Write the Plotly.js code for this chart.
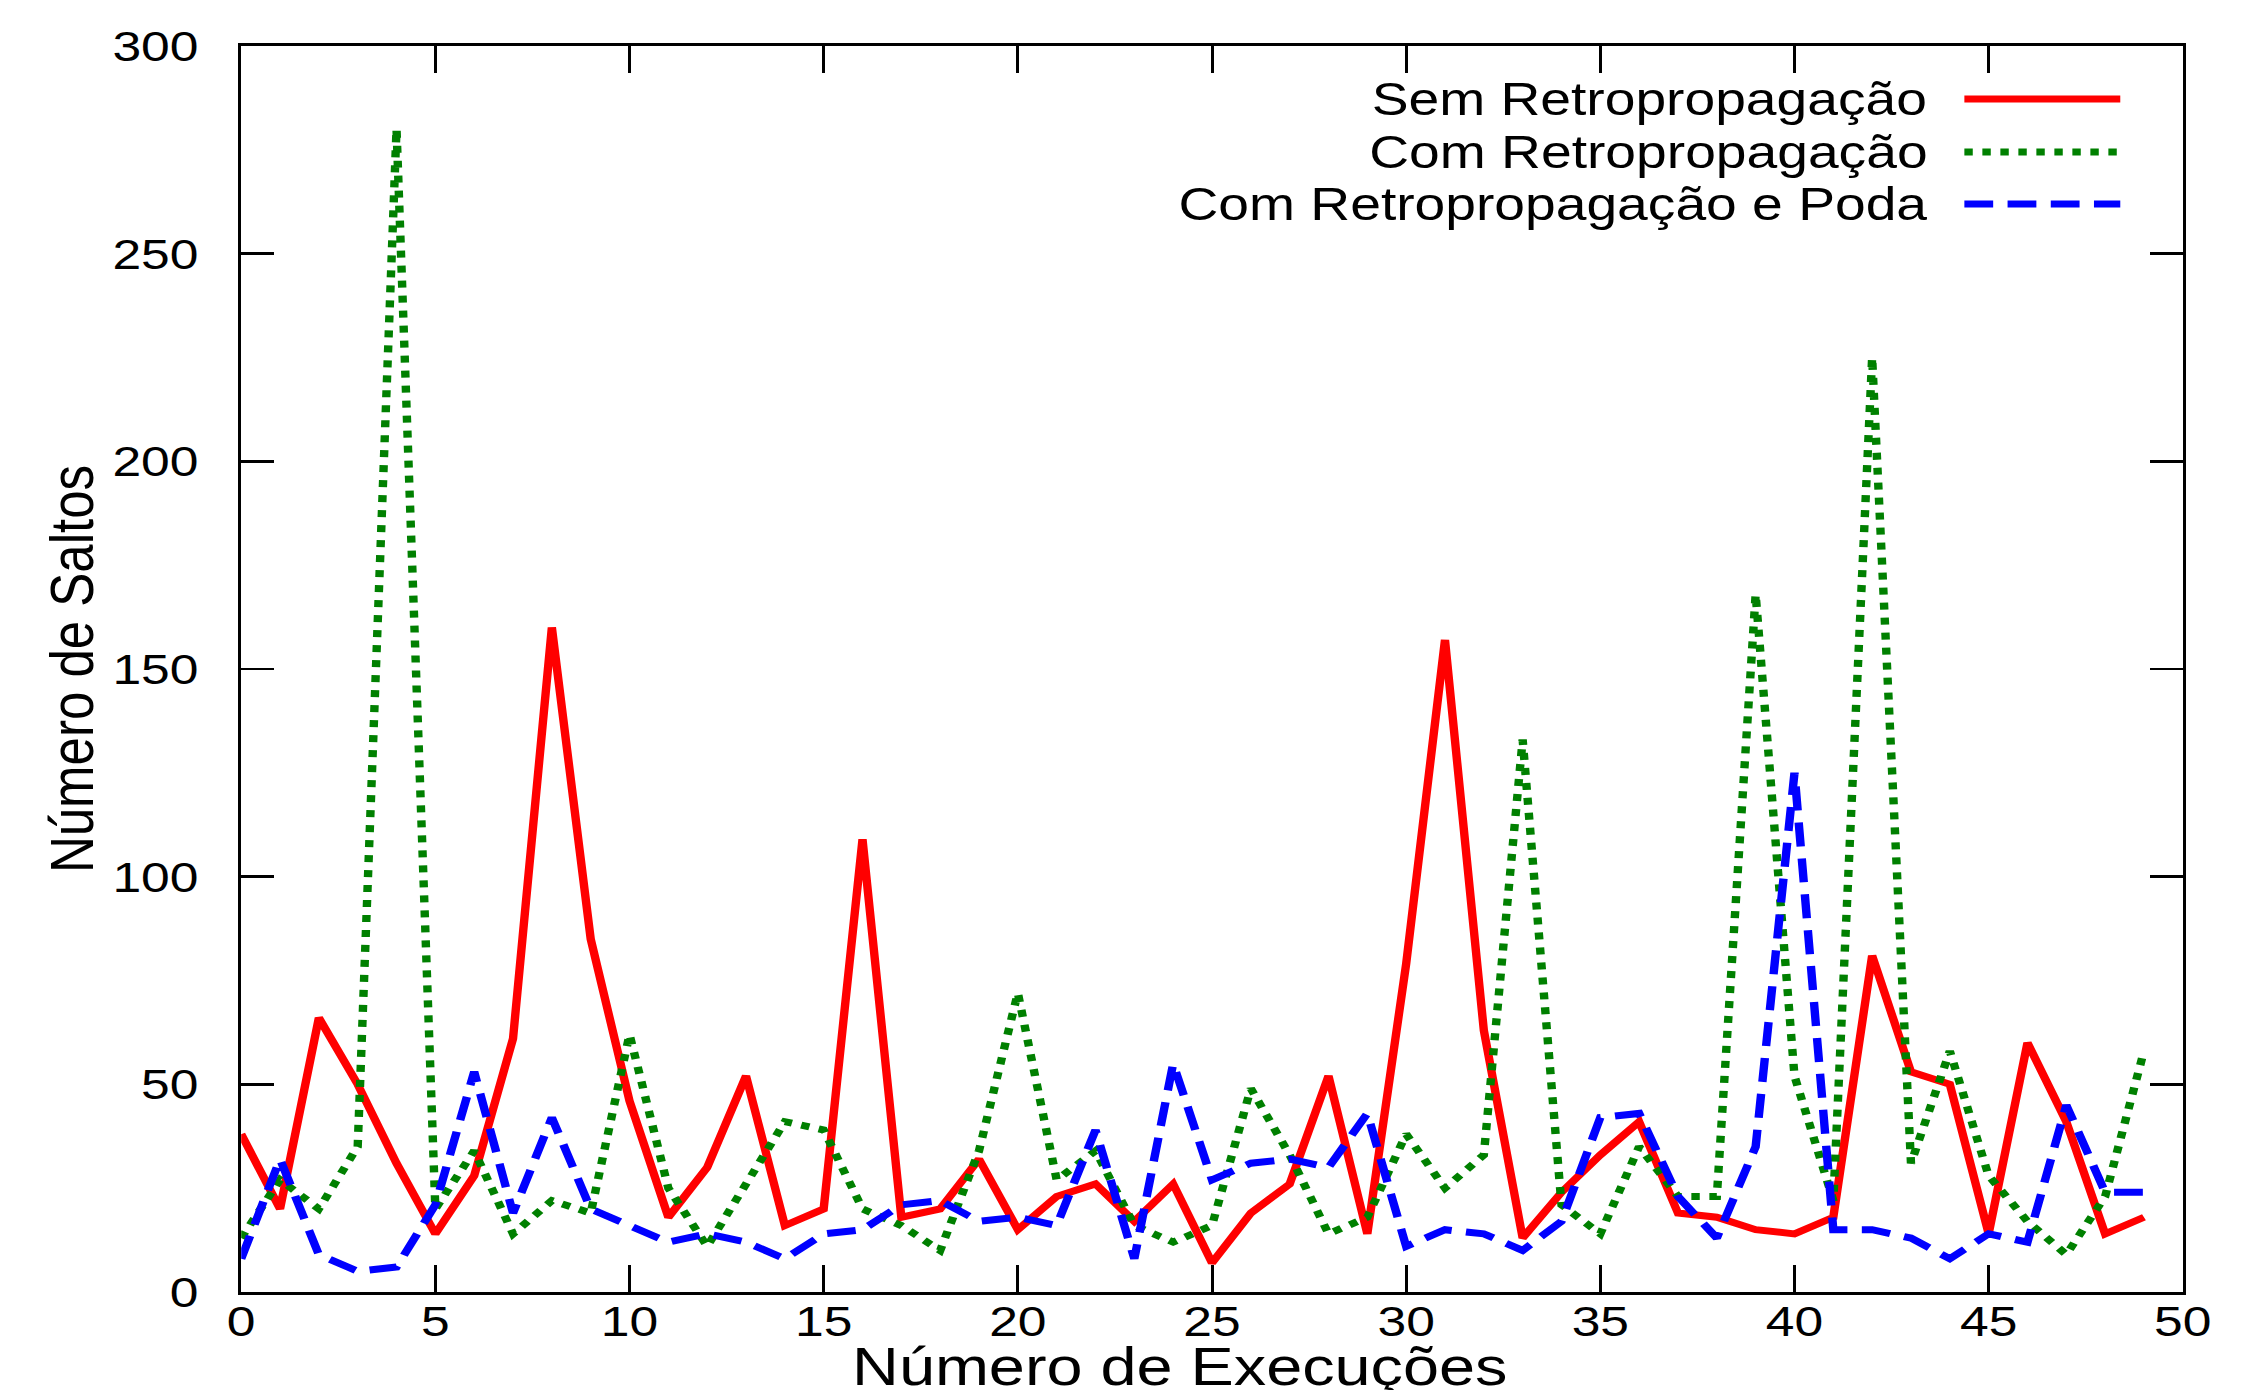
<!DOCTYPE html>
<html>
<head>
<meta charset="utf-8">
<script src="https://cdn.plot.ly/plotly-3.0.1.min.js"></script>
<style>
  html, body { margin: 0; padding: 0; background: #ffffff; overflow: hidden; }
  #wrap { width: 2257px; height: 1390px; overflow: hidden; }
  #chart { width: 1881px; height: 1390px; transform: scale(1.2, 1); transform-origin: 0 0; }
</style>
</head>
<body>
<div id="wrap"><div id="chart"></div></div>
<script>
// Execution index
const execucoes = Array.from({length: 50}, (_, i) => i);

// Series names
const seriesNames = [
  "Sem Retropropagação",
  "Com Retropropagação",
  "Com Retropropagação e Poda"
];

// Axis titles
const xTitle = "Número de Execuções";
const yTitle = "Número de Saltos";

// Series values
const semRetro = [38, 20, 66, 50, 31, 14, 28, 61, 160, 85,
                  46, 18, 30, 52, 16, 20, 109, 18, 20, 32,
                  15, 23, 26, 17, 26, 7, 19, 26, 52, 14,
                  79, 157, 63, 13, 24, 33, 41, 19, 18, 15,
                  14, 18, 81, 53, 50, 14, 60, 41, 14, 18];

const comRetro = [13, 27, 20, 35, 280, 20, 34, 14, 22, 19,
                  62, 25, 11, 26, 41, 39, 20, 16, 10, 34,
                  72, 27, 34, 16, 12, 16, 49, 33, 14, 18,
                  38, 25, 33, 133, 21, 14, 35, 23, 23, 168,
                  52, 22, 225, 31, 58, 28, 17, 9, 23, 58];

const comRetroPoda = [8, 32, 9, 5, 6, 21, 53, 19, 42, 20,
                      16, 12, 14, 12, 8, 14, 15, 21, 22, 17,
                      18, 16, 39, 8, 55, 27, 31, 32, 30, 43,
                      11, 15, 14, 10, 17, 42, 43, 23, 13, 35,
                      125, 15, 15, 13, 8, 14, 12, 45, 24, 24];

// Axis tick values
const xTicks = [0, 5, 10, 15, 20, 25, 30, 35, 40, 45, 50];
const yTicks = [0, 50, 100, 150, 200, 250, 300];

const allSeries = [semRetro, comRetro, comRetroPoda];
const colors = ["#ff0000", "#008000", "#0000ff"];
const dashes = ["solid", "7px,8px", "24px,12px"];
const widths = [7, 7, 7];

const FONT = "Liberation Sans, Arial, Helvetica, sans-serif";

const traces = allSeries.map((vals, k) => ({
  x: execucoes,
  y: vals,
  type: "scatter",
  mode: "lines",
  name: seriesNames[k],
  line: { color: colors[k], width: widths[k], dash: dashes[k] },
  showlegend: false,
  hoverinfo: "skip"
}));

// Manual legend (text right-aligned, sample line on the right, as in the reference)
const legendY = [0.9575, 0.9149, 0.8732];
const annotations = seriesNames.map((n, k) => ({
  xref: "paper", yref: "paper",
  x: 0.8693, y: legendY[k],
  xanchor: "right", yanchor: "middle",
  text: n, showarrow: false,
  font: { family: FONT, size: 46, color: "#000000" }
}));
// x-axis title placed as in the reference (slightly left of centre, low on the page)
annotations.push({
  xref: "paper", yref: "paper",
  x: 0.4832, y: -0.0595,
  xanchor: "center", yanchor: "middle",
  text: xTitle, showarrow: false,
  font: { family: FONT, size: 54, color: "#000000" }
});
const shapes = seriesNames.map((n, k) => ({
  type: "line", xref: "paper", yref: "paper",
  x0: 0.8875, x1: 0.9678, y0: legendY[k], y1: legendY[k],
  line: { color: colors[k], width: widths[k], dash: dashes[k] }
}));

const layout = {
  width: 1881,
  height: 1390,
  autosize: false,
  paper_bgcolor: "#ffffff",
  plot_bgcolor: "#ffffff",
  font: { family: FONT, size: 43, color: "#000000" },
  margin: { l: 201, r: 62, t: 46, b: 98, pad: 0 },
  showlegend: false,
  xaxis: {
    range: [0, 50],
    tickvals: xTicks,
    ticktext: xTicks.map(String),
    ticks: "inside",
    ticklen: 27,
    tickwidth: 2.5,
    tickcolor: "#000000",
    showline: true,
    linewidth: 3,
    linecolor: "#000000",
    mirror: "ticks",
    showgrid: false,
    zeroline: false,
    ticklabelstandoff: -11,
    tickfont: { family: FONT, size: 43, color: "#000000" }
  },
  yaxis: {
    range: [0, 300],
    tickvals: yTicks,
    ticktext: yTicks.map(String),
    ticks: "inside",
    ticklen: 27,
    tickwidth: 2.5,
    tickcolor: "#000000",
    showline: true,
    linewidth: 3,
    linecolor: "#000000",
    mirror: "ticks",
    showgrid: false,
    zeroline: false,
    ticklabelstandoff: 24,
    tickfont: { family: FONT, size: 43, color: "#000000" },
    title: { text: yTitle, font: { family: FONT, size: 51, color: "#000000" }, standoff: 0 }
  },
  annotations: annotations,
  shapes: shapes
};

Plotly.newPlot("chart", traces, layout, { staticPlot: true, displayModeBar: false });
</script>
</body>
</html>
